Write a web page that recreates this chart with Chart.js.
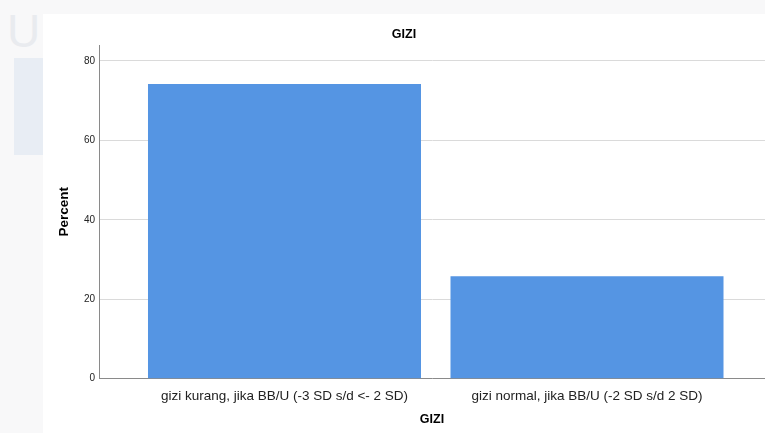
<!DOCTYPE html>
<html><head><meta charset="utf-8">
<script src="https://cdn.jsdelivr.net/npm/chart.js@4.4.1/dist/chart.umd.min.js"></script>
<style>
html,body{margin:0;padding:0;width:765px;height:433px;overflow:hidden;background:#f8f8f9;}
#wm-u{position:absolute;left:7px;top:7px;font:46px 'Liberation Sans',Arial,sans-serif;color:#e9ebef;line-height:48px;}
#wm-box{position:absolute;left:14px;top:58px;width:29px;height:97px;background:#e8edf4;}
#wrap{position:absolute;left:43px;top:14px;width:738px;height:419px;background:#fff;}
canvas{display:block;}
</style></head><body>
<div id="wm-u">U</div>
<div id="wm-box"></div>
<div id="wrap"><canvas id="c" width="738" height="419"></canvas></div>
<script>
const categories = ['gizi kurang, jika BB/U (-3 SD s/d <- 2 SD)', 'gizi normal, jika BB/U (-2 SD s/d 2 SD)'];
const percents = [74.2, 25.8];
const yTicks = [0, 20, 40, 60, 80];
const chartTitle = 'GIZI';
const xTitle = 'GIZI';
const yTitle = 'Percent';

const F = "'Liberation Sans', Arial, sans-serif";
const ctx = document.getElementById('c').getContext('2d');
new Chart(ctx, {
  type: 'bar',
  data: {
    datasets: [{
      label: yTitle,
      data: categories.map((c, i) => ({ x: i + 1, y: percents[i] })),
      backgroundColor: '#5595e3',
      borderWidth: 0,
      barPercentage: 0.9025,
      categoryPercentage: 1
    }]
  },
  options: {
    responsive: false,
    animation: false,
    layout: { padding: { left: 0, right: 16, top: 0, bottom: 0 } },
    plugins: {
      legend: { display: false },
      tooltip: { enabled: false },
      title: {
        display: true, text: chartTitle, color: '#000',
        font: { family: F, size: 12.5, weight: 'bold', lineHeight: 1.2 },
        padding: { top: 13.5, bottom: 2.5 }
      }
    },
    scales: {
      x: {
        type: 'linear', min: 0.3868, max: 2.5884, offset: false,
        grid: { display: false, drawTicks: false, offset: false },
        border: { display: true, color: '#8a8a8a', width: 1 },
        afterBuildTicks: s => { s.ticks = categories.map((c, i) => ({ value: i + 1 })); },
        afterFit: s => { s.height = 54.3; },
        ticks: {
          autoSkip: false, maxRotation: 0, minRotation: 0, padding: 9, color: '#222',
          font: { family: F, size: 13.5 },
          callback: (v) => categories[Math.round(v) - 1]
        },
        title: {
          display: true, text: xTitle, color: '#000',
          font: { family: F, size: 12.5, weight: 'bold', lineHeight: 1.2 },
          padding: { top: 0, bottom: 6 }
        }
      },
      y: {
        min: 0, max: 84,
        grid: { color: '#dadada', drawTicks: false },
        border: { display: true, color: '#8a8a8a', width: 1 },
        afterBuildTicks: s => { s.ticks = yTicks.map(v => ({ value: v })); },
        afterFit: s => { s.width = 56; },
        ticks: { padding: 4, color: '#222', font: { family: F, size: 10 } },
        title: {
          display: true, text: yTitle, color: '#000',
          font: { family: F, size: 13.5, weight: 'bold', lineHeight: 1.2 },
          padding: { top: 12.9, bottom: 0 }
        }
      }
    }
  }
});
</script>
</body></html>
